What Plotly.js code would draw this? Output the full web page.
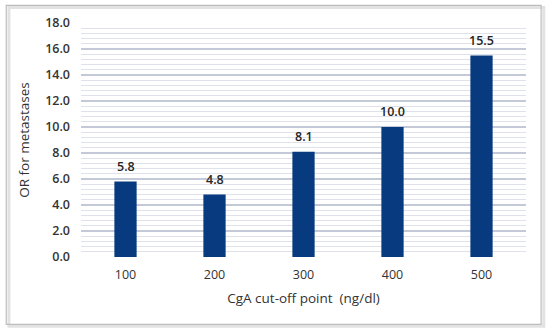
<!DOCTYPE html>
<html><head><meta charset="utf-8">
<script src="https://cdn.plot.ly/plotly-3.0.1.min.js"></script>
<style>html,body{margin:0;padding:0;background:#fff;}#c{width:550px;height:332px;}</style>
</head><body><div id="c"></div>
<script>
const categories = ['100', '200', '300', '400', '500'];
const orValues = [5.8, 4.8, 8.1, 10.0, 15.5];
const yTickVals = [0, 2, 4, 6, 8, 10, 12, 14, 16, 18];
const yTickText = ['0.0', '2.0', '4.0', '6.0', '8.0', '10.0', '12.0', '14.0', '16.0', '18.0'];

const trace = {
  type: 'bar',
  x: categories,
  y: orValues,
  marker: {color: '#073a7e'},
  hoverinfo: 'none'
};

// category axis: annotation x given as category index
const labels = categories.map((c, i) => ({
  x: i, y: orValues[i], xref: 'x', yref: 'y',
  text: orValues[i].toFixed(1), showarrow: false,
  yanchor: 'bottom', yshift: 5,
  font: {family: 'Open Sans, sans-serif', size: 12.5, color: '#262626', weight: 600}
}));

const layout = {
  width: 550, height: 332,
  margin: {l: 81, r: 24, t: 23, b: 75},
  paper_bgcolor: '#fff', plot_bgcolor: '#fff',
  bargap: 0.75,
  showlegend: false,
  font: {family: 'Open Sans, sans-serif', color: '#333'},
  xaxis: {
    type: 'category',
    range: [-0.5, 4.5],
    showgrid: false, zeroline: false, showline: false, ticks: '',
    tickfont: {size: 12.5, color: '#333'},
    ticklabelstandoff: 8,
    title: {text: 'CgA cut-off point  (ng/dl)', font: {size: 13.5, color: '#333'}, standoff: 12}
  },
  yaxis: {
    range: [0, 18],
    tickvals: yTickVals, ticktext: yTickText,
    showgrid: true, gridcolor: '#c3c9d6', gridwidth: 1.3,
    zeroline: false, showline: false, ticks: '',
    minor: {dtick: 0.4, showgrid: true, gridcolor: '#dfe2ea', gridwidth: 1},
    tickfont: {size: 12.5, color: '#333', weight: 600},
    ticklabelstandoff: 10,
    title: {text: 'OR for metastases', font: {size: 13.5, color: '#333'}, standoff: 12}
  },
  annotations: labels,
  shapes: [
    {type: 'rect', xref: 'paper', yref: 'paper', x0: -0.162, x1: 1.040, y0: -0.296, y1: 1.066,
     line: {color: '#e2e2e2', width: 3}, layer: 'below'},
    {type: 'rect', xref: 'paper', yref: 'paper', x0: -0.168, x1: 1.034, y0: -0.288, y1: 1.075,
     line: {color: '#bdbdbd', width: 1.2}, fillcolor: 'rgba(0,0,0,0)', layer: 'below'}
  ]
};

Plotly.newPlot('c', [trace], layout, {displayModeBar: false, staticPlot: true});
</script></body></html>
